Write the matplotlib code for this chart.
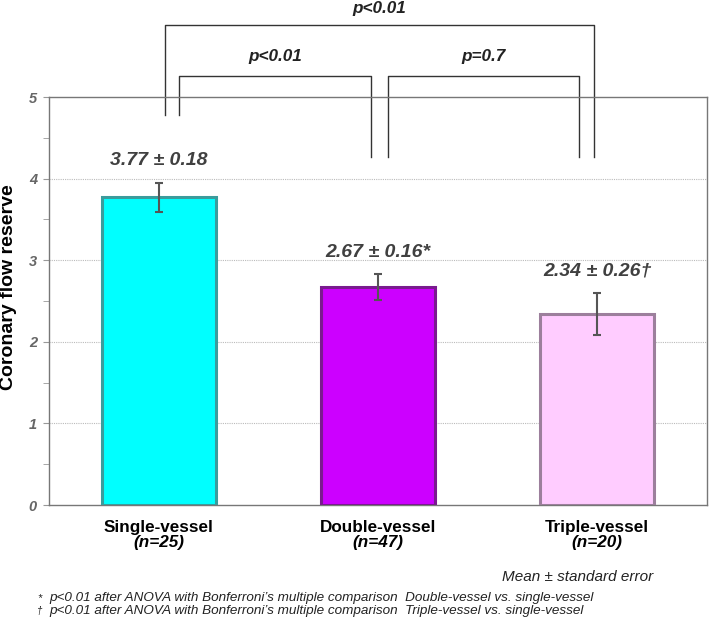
import matplotlib
matplotlib.use("Agg")
import matplotlib.pyplot as plt
from matplotlib.ticker import MultipleLocator

# data
groups = ["Single-vessel", "Double-vessel", "Triple-vessel"]
n_labels = ["(n=25)", "(n=47)", "(n=20)"]
means = [3.77, 2.67, 2.34]
sems = [0.18, 0.16, 0.26]
marks = ["", "*", "\u2020"]
colors = ["#00FFFF", "#CC00FF", "#FFCCFF"]
edges = ["#3A9C9C", "#7A1A8F", "#9C7F9C"]

plt.rcParams["font.family"] = ["Liberation Sans", "DejaVu Sans"]

fig = plt.figure(figsize=(7.09, 6.22), dpi=100)
ax = fig.add_axes([0.069, 0.188, 0.928, 0.656])

x = list(range(len(groups)))
ax.bar(x, means, width=0.52, color=colors, edgecolor=edges, linewidth=2.2, zorder=3)
ax.errorbar(x, means, yerr=sems, fmt="none", ecolor="#555555", elinewidth=1.5,
            capsize=3, capthick=1.5, zorder=4)

for xi, m, s, mk in zip(x, means, sems, marks):
    ax.text(xi, m + s + 0.27, f"{m:.2f} \u00b1 {s:.2f}{mk}", ha="center", va="center",
            fontsize=14, fontweight="bold", fontstyle="italic", color="#404040")

ax.set_xlim(-0.5, 2.5)
ax.set_ylim(0, 5)
ax.set_yticks([0, 1, 2, 3, 4, 5])
ax.set_yticklabels(["0", "1", "2", "3", "4", "5"], fontsize=10.5, fontweight="bold",
                   fontstyle="italic", color="#666666")
ax.yaxis.set_minor_locator(MultipleLocator(0.5))
ax.tick_params(axis="y", which="both", length=4.3, color="#999999", pad=4.3)
ax.set_xticks([])
for yv in [1, 2, 3, 4]:
    ax.axhline(yv, color="#BBBBBB", linestyle=(0, (1, 1)), linewidth=0.8, zorder=1)
for sp in ax.spines.values():
    sp.set_color("#777777")
    sp.set_linewidth(1)
ax.set_ylabel("Coronary flow reserve", fontsize=14, fontweight="bold")
ax.yaxis.label.set_verticalalignment("center")
ax.yaxis.set_label_coords(-0.061, 0.533)

# category labels
for xi, g, nl in zip(x, groups, n_labels):
    ax.text(xi, -0.331, g, ha="center", va="baseline", fontsize=12.3, fontweight="bold",
            clip_on=False)
    ax.text(xi, -0.52, nl, ha="center", va="baseline", fontsize=12.3, fontweight="bold",
            fontstyle="italic", clip_on=False)

# significance brackets
bk = dict(color="#333333", linewidth=1, clip_on=False)
ax.plot([0.027, 0.027, 1.986, 1.986], [4.78, 5.88, 5.88, 4.26], **bk)
ax.plot([0.091, 0.091, 0.968, 0.968], [4.78, 5.26, 5.26, 4.26], **bk)
ax.plot([1.045, 1.045, 1.918, 1.918], [4.26, 5.26, 5.26, 4.26], **bk)
pkw = dict(ha="center", va="center", fontsize=12.3, fontweight="bold", fontstyle="italic",
           color="#222222", clip_on=False)
ax.text(1.006, 6.09, "p<0.01", **pkw)
ax.text(0.53, 5.50, "p<0.01", **pkw)
ax.text(1.48, 5.50, "p=0.7", **pkw)

# notes
fig.text(0.922, 0.072, "Mean \u00b1 standard error", ha="right", va="center",
         fontsize=11, fontstyle="italic", color="#222222")
fig.text(0.052, 0.039, "*", ha="left", va="center", fontsize=8, fontstyle="italic", color="#222222")
fig.text(0.069, 0.039, "p<0.01 after ANOVA with Bonferroni\u2019s multiple comparison  Double-vessel vs. single-vessel",
         ha="left", va="center", fontsize=9.7, fontstyle="italic", color="#222222")
fig.text(0.052, 0.017, "\u2020", ha="left", va="center", fontsize=7, fontstyle="italic", color="#222222")
fig.text(0.069, 0.017, "p<0.01 after ANOVA with Bonferroni\u2019s multiple comparison  Triple-vessel vs. single-vessel",
         ha="left", va="center", fontsize=9.7, fontstyle="italic", color="#222222")

fig.savefig("out.png", dpi=100)
